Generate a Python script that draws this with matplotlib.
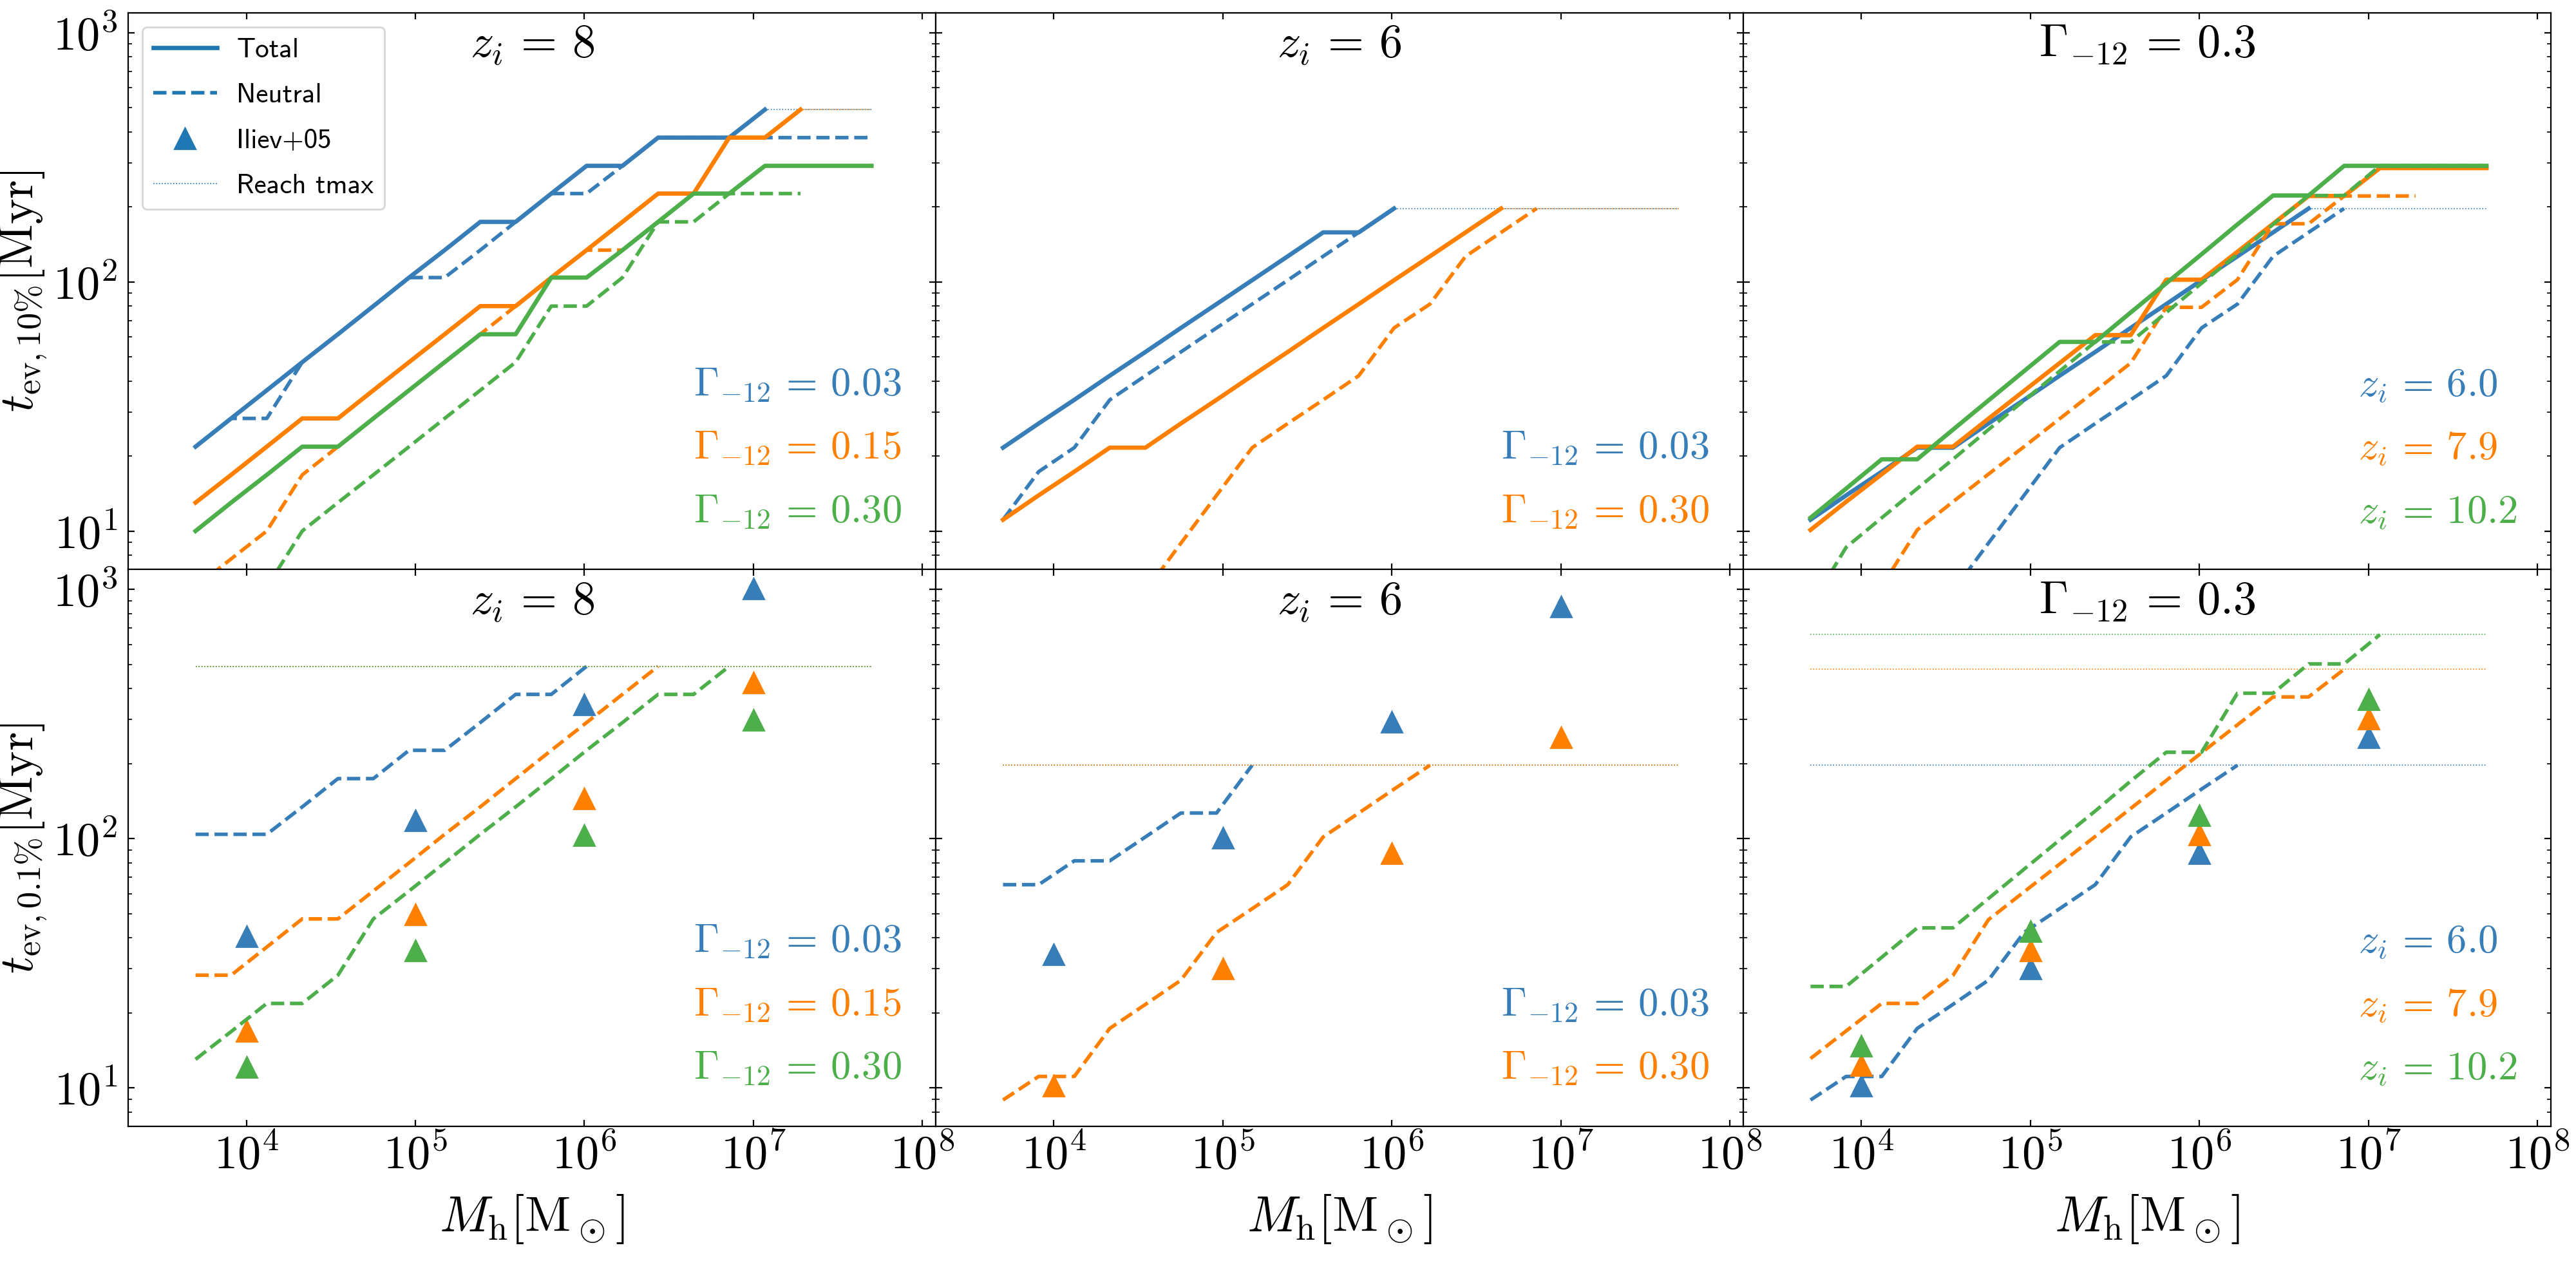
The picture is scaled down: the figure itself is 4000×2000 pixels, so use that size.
import numpy as np
import matplotlib.pyplot as plt
from matplotlib.lines import Line2D
from matplotlib.ticker import NullLocator

plt.rcParams['mathtext.fontset'] = 'cm'
plt.rcParams['font.family'] = 'serif'
plt.rcParams['font.serif'] = ['cmr10', 'DejaVu Serif']
plt.rcParams['axes.formatter.use_mathtext'] = True

N = None

# halo mass grid [Msun]
mass = [5.00e3, 8.12e3, 1.32e4, 2.14e4, 3.48e4, 5.64e4, 9.17e4, 1.49e5, 2.42e5, 3.92e5,
        6.37e5, 1.03e6, 1.68e6, 2.73e6, 4.43e6, 7.19e6, 1.17e7, 1.90e7, 3.08e7, 5.00e7]
iliev_mass = [1e4, 1e5, 1e6, 1e7]

# maximum time per initial redshift [Myr]
tmax_z8 = 491
tmax_z6 = 197
tmax_z79 = 478
tmax_z102 = 658

# ---------------- top row: t_ev,10% ----------------
# z_i = 8
a10_tot_003 = [21.8, 28.3, 36.7, 47.6, 61.6, 79.9, 104, 134, 174, 174, 226, 292, 292, 379, 379, 379, 491, N, N, N]
a10_neu_003 = [21.8, 28.3, 28.3, 47.6, 61.6, 79.9, 104, 104, 134, 174, 226, 226, 292, 379, 379, 379, 379, 379, 379, 379]
a10_tot_015 = [13.0, 16.8, 21.8, 28.3, 28.3, 36.7, 47.6, 61.6, 79.9, 79.9, 104, 134, 174, 226, 226, 379, 379, 491, N, N]
a10_neu_015 = [5.96, 7.73, 10.0, 16.8, 21.8, 28.3, 36.7, 47.6, 61.6, 79.9, 104, 134, 134, 174, 226, 379, 379, 491, N, N]
a10_tot_030 = [10.0, 13.0, 16.8, 21.8, 21.8, 28.3, 36.7, 47.6, 61.6, 61.6, 104, 104, 134, 174, 226, 226, 292, 292, 292, 292]
a10_neu_030 = [N, N, 5.96, 10.0, 13.0, 16.8, 21.8, 28.3, 36.7, 47.6, 79.9, 79.9, 104, 174, 174, 226, 226, 226, N, N]
# z_i = 6
b10_tot_003 = [21.6, 27.0, 33.6, 42.0, 52.3, 65.3, 81.4, 101.5, 126.6, 157.9, 157.9, 196.9, N, N, N, N, N, N, N, N]
b10_neu_003 = [11.1, 17.3, 21.6, 33.6, 42.0, 52.3, 65.3, 81.4, 101.5, 126.6, 157.9, 196.9, N, N, N, N, N, N, N, N]
b10_tot_030 = [11.1, 13.9, 17.3, 21.6, 21.6, 27.0, 33.6, 42.0, 52.3, 65.3, 81.4, 101.5, 126.6, 157.9, 196.9, N, N, N, N, N]
b10_neu_030 = [N, N, N, N, 5.73, 8.93, 13.9, 21.6, 27.0, 33.6, 42.0, 65.3, 81.4, 126.6, 157.9, 196.9, N, N, N, N]
# Gamma_-12 = 0.3
c10_tot_z60 = b10_tot_030
c10_neu_z60 = b10_neu_030
c10_tot_z79 = [10.1, 13.1, 16.9, 21.8, 21.8, 28.2, 36.5, 47.2, 61.1, 61.1, 102, 102, 132, 171, 221, 221, 286, 286, 286, 286]
c10_neu_z79 = [N, N, 6.0, 10.1, 13.1, 16.9, 21.8, 28.2, 36.5, 47.2, 79.0, 79.0, 102, 171, 171, 221, 221, 221, N, N]
c10_tot_z102 = [11.3, 14.8, 19.4, 19.4, 25.5, 33.4, 43.8, 57.4, 57.4, 75.3, 98.7, 129, 170, 222, 222, 292, 292, 292, 292, 292]
c10_neu_z102 = [5.0, 8.6, 11.3, 14.8, 19.4, 25.5, 33.4, 43.8, 57.4, 57.4, 75.3, 98.7, 129, 170, 222, 222, 292, 292, 292, 292]

# ---------------- bottom row: t_ev,0.1% (neutral only) ----------------
a01_neu_003 = [104, 104, 104, 134, 174, 174, 226, 226, 292, 379, 379, 491, N, N, N, N, N, N, N, N]
a01_neu_015 = [28.3, 28.3, 36.7, 47.6, 47.6, 61.6, 79.9, 104, 134, 174, 226, 292, 379, 491, N, N, N, N, N, N]
a01_neu_030 = [13.0, 16.8, 21.8, 21.8, 28.3, 47.6, 61.6, 79.9, 104, 134, 174, 226, 292, 379, 379, 491, N, N, N, N]
b01_neu_003 = [65.3, 65.3, 81.4, 81.4, 101.5, 126.6, 126.6, 196.9, N, N, N, N, N, N, N, N, N, N, N, N]
b01_neu_030 = [8.93, 11.1, 11.1, 17.3, 21.6, 27.0, 42.0, 52.3, 65.3, 101.5, 126.6, 157.9, 196.9, N, N, N, N, N, N, N]
c01_neu_z60 = b01_neu_030
c01_neu_z79 = [13.1, 16.9, 21.8, 21.8, 28.2, 47.2, 61.1, 79.0, 102, 132, 171, 221, 286, 370, 370, 478, N, N, N, N]
c01_neu_z102 = [25.5, 25.5, 33.4, 43.8, 43.8, 57.4, 75.3, 98.7, 129, 170, 222, 222, 383, 383, 502, 502, 658, N, N, N]

# Iliev et al. 2005
a_iliev_003 = [40.5, 118, 344, 1009]
a_iliev_015 = [16.9, 49.7, 145, 422]
a_iliev_030 = [12.1, 35.6, 103, 299]
b_iliev_003 = [34.2, 100.7, 293, 851]
b_iliev_030 = [10.2, 30.0, 87.3, 254]
c_iliev_z60 = b_iliev_030
c_iliev_z79 = [12.3, 35.5, 104, 302]
c_iliev_z102 = [14.7, 42.5, 124, 361]

col = ['#377eb8', '#ff7f00', '#4daf4a']
lab_a = [r'$\Gamma_{-12}\,=\,0.03$', r'$\Gamma_{-12}\,=\,0.15$', r'$\Gamma_{-12}\,=\,0.30$']
lab_b = [r'$\Gamma_{-12}\,=\,0.03$', r'$\Gamma_{-12}\,=\,0.30$']
lab_c = [r'$z_i\,=\,6.0$', r'$z_i\,=\,7.9$', r'$z_i\,=\,10.2$']

M = np.array(mass)


def arr(v):
    return np.array(v, dtype=float)


def draw_top(ax, tot, neu, tmax, c):
    t = arr(tot)
    ax.plot(M, t, '-', color=c, lw=2.4)
    ax.plot(M, arr(neu), '--', color=c, lw=2.0)
    hit = np.where(t >= tmax * 0.999)[0]
    if len(hit):
        i = hit[0]
        ax.plot(M[i:], np.full(len(M) - i, tmax), ':', color=c, lw=0.6)


def draw_bot(ax, neu, tmax, iliev, c):
    ax.plot(M, np.full(len(M), tmax), ':', color=c, lw=0.6)
    ax.plot(M, arr(neu), '--', color=c, lw=2.0)
    ax.plot(iliev_mass, iliev, '^', color=c, ms=11.5, ls='none')


fig, axes = plt.subplots(2, 3, figsize=(20, 10), dpi=200, sharex=True, sharey=True)
fig.subplots_adjust(left=0.0498, right=0.9902, bottom=0.1255, top=0.99, wspace=0, hspace=0)

# top row
ax = axes[0, 0]
draw_top(ax, a10_tot_003, a10_neu_003, tmax_z8, col[0])
draw_top(ax, a10_tot_015, a10_neu_015, tmax_z8, col[1])
draw_top(ax, a10_tot_030, a10_neu_030, tmax_z8, col[2])
ax = axes[0, 1]
draw_top(ax, b10_tot_003, b10_neu_003, tmax_z6, col[0])
draw_top(ax, b10_tot_030, b10_neu_030, tmax_z6, col[1])
ax = axes[0, 2]
draw_top(ax, c10_tot_z60, c10_neu_z60, tmax_z6, col[0])
draw_top(ax, c10_tot_z79, c10_neu_z79, tmax_z79, col[1])
draw_top(ax, c10_tot_z102, c10_neu_z102, tmax_z102, col[2])

# bottom row
ax = axes[1, 0]
draw_bot(ax, a01_neu_003, tmax_z8, a_iliev_003, col[0])
draw_bot(ax, a01_neu_015, tmax_z8, a_iliev_015, col[1])
draw_bot(ax, a01_neu_030, tmax_z8, a_iliev_030, col[2])
ax = axes[1, 1]
draw_bot(ax, b01_neu_003, tmax_z6, b_iliev_003, col[0])
draw_bot(ax, b01_neu_030, tmax_z6, b_iliev_030, col[1])
ax = axes[1, 2]
draw_bot(ax, c01_neu_z60, tmax_z6, c_iliev_z60, col[0])
draw_bot(ax, c01_neu_z79, tmax_z79, c_iliev_z79, col[1])
draw_bot(ax, c01_neu_z102, tmax_z102, c_iliev_z102, col[2])

titles = [r'$z_i\,=\,8$', r'$z_i\,=\,6$', r'$\Gamma_{-12}\,=\,0.3$']
slots = [0.313, 0.199, 0.085]
for row in range(2):
    for j, (labs, x0) in enumerate([(lab_a, 0.70), (lab_b, 0.70), (lab_c, 0.762)]):
        ax = axes[row, j]
        ax.text(0.5, 0.92, titles[j], transform=ax.transAxes, ha='center',
                va='baseline', fontsize=26)
        off = 3 - len(labs)
        for i, s in enumerate(labs):
            ax.text(x0, slots[i + off], s, transform=ax.transAxes, ha='left',
                    va='baseline', fontsize=22.5, color=col[i])

for ax in axes.flat:
    ax.set_xscale('log')
    ax.set_yscale('log')
    ax.set_xlim(2.0e3, 1.2e8)
    ax.set_ylim(7.0, 1200)
    ax.xaxis.set_minor_locator(NullLocator())
    ax.tick_params(which='both', direction='in', top=True, right=True, labelsize=26)
    ax.tick_params(axis='y', pad=6)
    ax.tick_params(axis='x', pad=4)

axes[0, 0].set_ylabel(r'$t_{\mathrm{ev},10\%}[\mathrm{Myr}]$', fontsize=27, labelpad=2)
axes[1, 0].set_ylabel(r'$t_{\mathrm{ev},0.1\%}[\mathrm{Myr}]$', fontsize=27, labelpad=2)
for ax in axes[1]:
    ax.set_xlabel(r'$M_\mathrm{h}[\mathrm{M}_\odot]$', fontsize=28, labelpad=8)

handles = [Line2D([], [], color='C0', lw=2.4, ls='-'),
           Line2D([], [], color='C0', lw=2.0, ls='--'),
           Line2D([], [], color='C0', marker='^', ms=11.5, ls='none'),
           Line2D([], [], color='C0', lw=0.6, ls=':')]
axes[0, 0].legend(handles, ['Total', 'Neutral', 'Iliev+05', 'Reach tmax'],
                  loc='upper left', prop={'family': 'cmss10', 'size': 15.5},
                  labelspacing=0.75, handlelength=2.3, handletextpad=0.7)

fig.savefig('out.png', dpi=200)
